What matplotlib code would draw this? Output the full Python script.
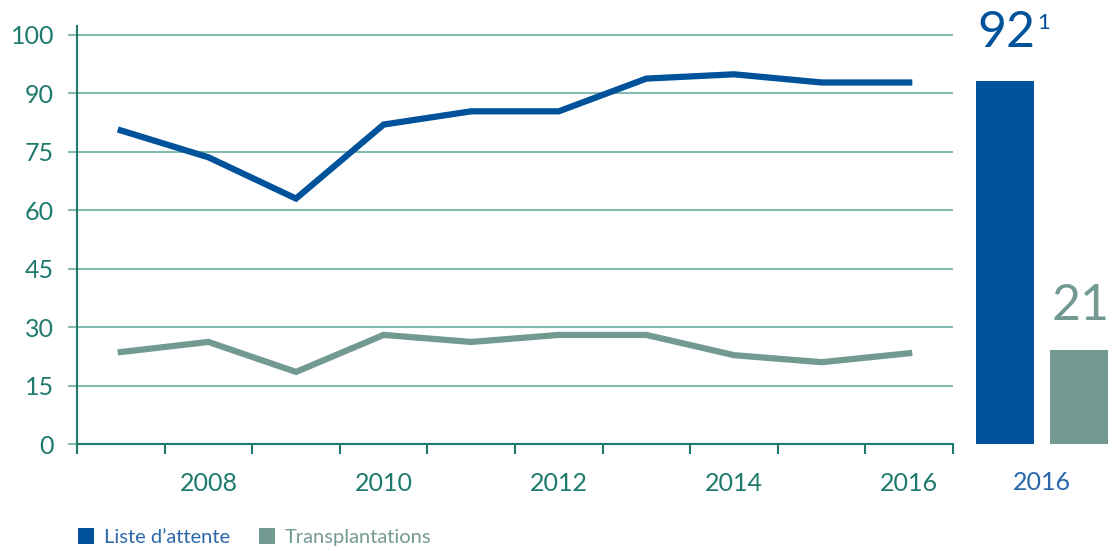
import matplotlib
matplotlib.use("Agg")
import matplotlib.pyplot as plt
from matplotlib.patches import Patch

plt.rcParams['font.family'] = ['Lato', 'DejaVu Sans']

years = [2007, 2008, 2009, 2010, 2011, 2012, 2013, 2014, 2015, 2016]
liste_attente = [80.5, 73.6, 63.0, 82.0, 85.4, 85.4, 93.8, 94.9, 92.8, 92.8]
transplantations = [23.6, 26.2, 18.5, 28.0, 26.2, 28.0, 28.0, 22.8, 21.0, 23.3]
year_labels = [2008, 2010, 2012, 2014, 2016]
y_ticks = [0, 15, 30, 45, 60, 75, 90, 105]
y_tick_labels = ['0', '15', '30', '45', '60', '75', '90', '100']
bar_values = [93.3, 24.1]
bar_labels = ['92', '21']
bar_note = '1'
bar_year = '2016'
series_names = ['Liste d\u2019attente', 'Transplantations']

BLUE = '#00529B'
GRAY = '#729A93'
TEAL = '#1F7A6E'
GRID = '#86BBB3'
BLUE_TXT = '#2A66AA'

W, H = 1114, 551
fig = plt.figure(figsize=(W / 100, H / 100), dpi=100)

ymax = 107.3
# main axes: x 77..953, y 26..444
ax = fig.add_axes([77 / W, (H - 444) / H, (953 - 77) / W, (444 - 26) / H])
ax.plot(years, liste_attente, color=BLUE, lw=4.5, solid_joinstyle='miter', zorder=3)
ax.plot(years, transplantations, color=GRAY, lw=4.5, solid_joinstyle='miter', zorder=3)
ax.set_xlim(years[0] - 0.5, years[-1] + 0.5)
ax.set_ylim(0, ymax)

ax.set_yticks(y_ticks)
ax.set_yticklabels(y_tick_labels, color=TEAL, fontsize=18)
ax.tick_params(axis='y', length=6.5, width=1.5, color=GRID, pad=10)
ax.grid(axis='y', color=GRID, lw=1.5, zorder=1)
ax.set_axisbelow(True)

boundaries = [y - 0.5 for y in years] + [years[-1] + 0.5]
ax.set_xticks(boundaries)
ax.set_xticklabels([''] * len(boundaries))
ax.tick_params(axis='x', which='major', length=7.5, width=1.5, color=TEAL)
ax.set_xticks(year_labels, minor=True)
ax.set_xticklabels([str(y) for y in year_labels], minor=True, color=TEAL, fontsize=18)
ax.tick_params(axis='x', which='minor', length=0, pad=20)

for s in ['top', 'right']:
    ax.spines[s].set_visible(False)
ax.spines['left'].set_color(TEAL)
ax.spines['left'].set_linewidth(1.5)
ax.spines['bottom'].set_color(TEAL)
ax.spines['bottom'].set_linewidth(1.5)

# bar axes: x 976..1108
bx = fig.add_axes([976 / W, (H - 444) / H, (1108 - 976) / W, (444 - 26) / H])
bw = 58 / 74
bx.bar([0, 1], bar_values, width=bw, color=[BLUE, GRAY])
bx.set_xlim(-bw / 2, 1 + bw / 2)
bx.set_ylim(0, ymax)
bx.axis('off')
bx.annotate(bar_labels[0], xy=(-bw / 2, bar_values[0]), xytext=(1, 24),
            textcoords='offset points', ha='left', va='baseline',
            color=BLUE, fontsize=36)
bx.annotate(bar_note, xy=(bw / 2, bar_values[0]), xytext=(2, 37),
            textcoords='offset points', ha='left', va='baseline',
            color=BLUE, fontsize=16)
bx.annotate(bar_labels[1], xy=(1 + bw / 2, bar_values[1]), xytext=(1, 22),
            textcoords='offset points', ha='right', va='baseline',
            color=GRAY, fontsize=36)
fig.text(1042 / W, 1 - 483 / H, bar_year, color=BLUE_TXT, fontsize=18,
         ha='center', va='center')

handles = [Patch(facecolor=BLUE, edgecolor='none'), Patch(facecolor=GRAY, edgecolor='none')]
fig.legend(handles, series_names, loc='center left',
           bbox_to_anchor=(78 / W, 1 - 537 / H), frameon=False, ncol=2,
           fontsize=14.5, handlelength=0.8, handleheight=0.8, handletextpad=0.5,
           columnspacing=1.4, labelcolor=[BLUE_TXT, GRAY], borderpad=0, borderaxespad=0)

fig.savefig('out.png', dpi=100)
